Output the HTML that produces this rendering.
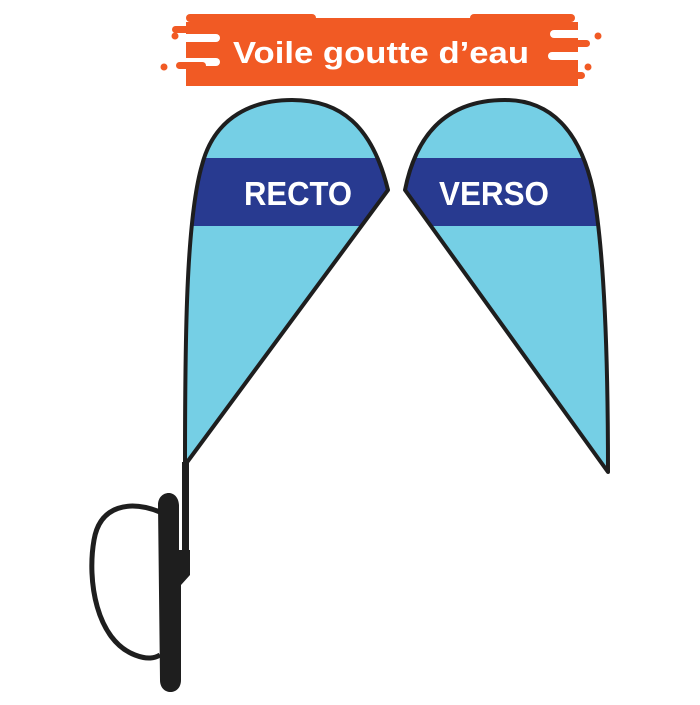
<!DOCTYPE html><html><head><style>body{margin:0;background:#fff}</style></head><body>
<svg width="700" height="700" viewBox="0 0 700 700" xmlns="http://www.w3.org/2000/svg">
<defs>
<clipPath id="cl"><path d="M185,465 C185,340 186,220 202,165 C215,115 255,100 292,100 C340,100 372,125 388,190 Z"/></clipPath>
<clipPath id="cr"><path d="M405,190 C418,125 455,100 505,100 C550,100 580,130 593,190 C606,260 608,380 608,472 Z"/></clipPath>
</defs>
<g fill="#F15A24">
<rect x="200" y="18" width="370" height="68"/>
<rect x="186" y="14" width="130" height="8" rx="4"/>
<rect x="470" y="14" width="105" height="8" rx="4"/>
<rect x="186" y="22" width="20" height="64"/>
<rect x="560" y="22" width="18" height="64"/>
</g>
<g fill="#fff">
<rect x="180" y="34" width="40" height="8" rx="4"/>
<rect x="180" y="58" width="40" height="8" rx="4"/>
<rect x="550" y="30" width="40" height="8" rx="4"/>
<rect x="548" y="52" width="40" height="8" rx="4"/>
</g>
<g fill="#F15A24">
<circle cx="175" cy="36" r="3.5"/>
<rect x="172" y="26" width="34" height="7" rx="3.5"/>
<rect x="186" y="44" width="30" height="7" rx="3.5"/>
<circle cx="164" cy="67" r="3.5"/>
<rect x="176" y="62" width="30" height="7" rx="3.5"/>
<circle cx="598" cy="36" r="3.5"/>
<rect x="560" y="40" width="30" height="7" rx="3.5"/>
<circle cx="588" cy="67" r="3.5"/>
<rect x="555" y="72" width="30" height="7" rx="3.5"/>
</g>
<text x="381" y="63" text-anchor="middle" fill="#fff" font-family="Liberation Sans, sans-serif" font-weight="bold" font-size="31" textLength="296" lengthAdjust="spacingAndGlyphs">Voile goutte d’eau</text>
<g clip-path="url(#cl)"><rect x="150" y="90" width="260" height="400" fill="#75CFE5"/><rect x="150" y="158" width="260" height="68" fill="#283A90"/></g>
<path d="M185,465 C185,340 186,220 202,165 C215,115 255,100 292,100 C340,100 372,125 388,190 Z" fill="none" stroke="#1e1e1e" stroke-width="4" stroke-linejoin="round"/>
<g clip-path="url(#cr)"><rect x="390" y="90" width="230" height="400" fill="#75CFE5"/><rect x="390" y="158" width="230" height="68" fill="#283A90"/></g>
<path d="M405,190 C418,125 455,100 505,100 C550,100 580,130 593,190 C606,260 608,380 608,472 Z" fill="none" stroke="#1e1e1e" stroke-width="4" stroke-linejoin="round"/>
<text x="298" y="205" text-anchor="middle" fill="#fff" font-family="Liberation Sans, sans-serif" font-weight="bold" font-size="33" textLength="108" lengthAdjust="spacingAndGlyphs">RECTO</text>
<text x="494" y="205" text-anchor="middle" fill="#fff" font-family="Liberation Sans, sans-serif" font-weight="bold" font-size="33" textLength="110" lengthAdjust="spacingAndGlyphs">VERSO</text>
<rect x="182" y="462" width="7" height="95" fill="#1e1e1e"/>
<path d="M160,512 C130,500 100,505 94,540 C87,580 96,640 135,655 C148,660 155,658 160,655" fill="none" stroke="#1e1e1e" stroke-width="5"/>
<path d="M158,505 C158,490 178,488 179,505 L179,550 L190,550 L190,575 L181,585 L181,680 C181,696 160,696 160,680 Z" fill="#1e1e1e"/>
</svg>
</body></html>
